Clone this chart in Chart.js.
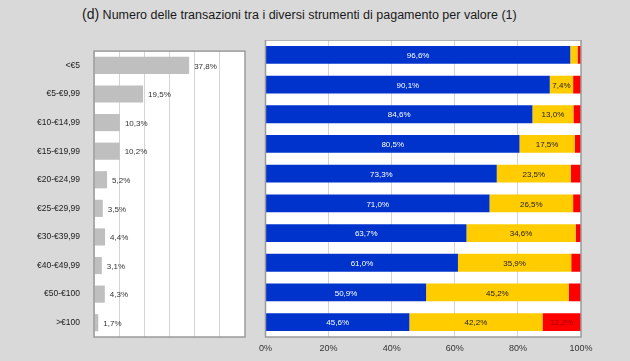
<!DOCTYPE html>
<html>
<head>
<meta charset="utf-8">
<script src="https://cdn.jsdelivr.net/npm/chart.js@4/dist/chart.umd.min.js"></script>
<style>
  body { margin: 0; background: #d9d9d9; font-family: "Liberation Sans", Arial, sans-serif; }
  #wrap { position: relative; width: 630px; height: 361px; overflow: hidden; }
  #title { position: absolute; left: 82px; top: 6px; font-size: 12.5px; color: #1a1a1a; white-space: nowrap; }
  #title b { font-weight: normal; font-size: 14px; }
  #left { position: absolute; left: 0; top: 40px; }
  #right { position: absolute; left: 253px; top: 40px; }
</style>
</head>
<body>
<div id="wrap">
  <div id="title"><b>(d)</b> Numero delle transazioni tra i diversi strumenti di pagamento per valore (1)</div>
  <canvas id="left" width="250" height="321"></canvas>
  <canvas id="right" width="377" height="321"></canvas>
</div>
<script>
// ── DATI ──────────────────────────────────────────────
const categories = ['<€5', '€5-€9,99', '€10-€14,99', '€15-€19,99', '€20-€24,99', '€25-€29,99', '€30-€39,99', '€40-€49,99', '€50-€100', '>€100'];
const shareValues = [37.8, 19.5, 10.3, 10.2, 5.2, 3.5, 4.4, 3.1, 4.3, 1.7];
const blueValues = [96.6, 90.1, 84.6, 80.5, 73.3, 71.0, 63.7, 61.0, 50.9, 45.6];
const yellowValues = [2.3, 7.4, 13.0, 17.5, 23.5, 26.5, 34.6, 35.9, 45.2, 42.2];
const redValues = [1.1, 2.5, 2.4, 2.0, 3.2, 2.5, 1.7, 3.1, 3.9, 12.2];
const xTicks = ['0%', '20%', '40%', '60%', '80%', '100%'];

const fmt = v => v.toFixed(1).replace('.', ',') + '%';

// sfondo bianco + bordo area grafico
const boxPlugin = {
    id: 'box',
    beforeDraw(chart) {
        const { ctx, chartArea: a } = chart;
        ctx.save(); ctx.fillStyle = '#fff'; ctx.fillRect(a.left, a.top, a.right - a.left, a.bottom - a.top); ctx.restore();
    },
    afterDraw(chart) {
        const { ctx, chartArea: a } = chart;
        ctx.save(); ctx.strokeStyle = '#9a9a9a'; ctx.lineWidth = 1.5;
        ctx.strokeRect(a.left, a.top, a.right - a.left, a.bottom - a.top); ctx.restore();
    }
};

// etichette valori
const labelPlugin = {
    id: 'vlabels',
    afterDatasetsDraw(chart, args, opts) {
        const ctx = chart.ctx;
        ctx.save(); ctx.font = '8px "Liberation Sans", Arial'; ctx.textBaseline = 'middle';
        chart.data.datasets.forEach((ds, di) => {
            chart.getDatasetMeta(di).data.forEach((bar, i) => {
                const v = ds.data[i];
                if (opts.outside) {
                    ctx.fillStyle = '#333'; ctx.textAlign = 'left';
                    ctx.fillText(fmt(v), bar.x + 5, bar.y + 1);
                } else {
                    if (v < 5) return;
                    ctx.fillStyle = ds.labelColor; ctx.textAlign = 'center';
                    ctx.fillText(fmt(v), (bar.x + bar.base) / 2, bar.y + 1);
                }
            });
        });
        ctx.restore();
    }
};

const tickFont = { family: '"Liberation Sans", Arial', size: 9 };

// ── GRAFICO SINISTRO ──────────────────────────────────
new Chart(document.getElementById('left'), {
    type: 'bar',
    data: { labels: categories, datasets: [{ data: shareValues, backgroundColor: '#bfbfbf', barPercentage: 0.6, categoryPercentage: 1 }] },
    options: {
        indexAxis: 'y', responsive: false, animation: false,
        layout: { padding: { left: 0, right: 5, top: 0, bottom: 0 } },
        plugins: { legend: { display: false }, tooltip: { enabled: false }, vlabels: { outside: true } },
        scales: {
            x: { min: 0, max: 60, ticks: { stepSize: 10, display: false }, grid: { color: '#d4d4d4', drawTicks: false }, border: { display: false },
                 afterFit: s => { s.height = 24; } },
            y: { ticks: { color: '#222', font: { family: '"Liberation Sans", Arial', size: 8.5 }, padding: 6 }, grid: { display: false }, border: { display: false },
                 afterFit: s => { s.width = 94; } }
        }
    },
    plugins: [boxPlugin, labelPlugin]
});

// ── GRAFICO DESTRO ────────────────────────────────────
new Chart(document.getElementById('right'), {
    type: 'bar',
    data: {
        labels: categories,
        datasets: [
            { data: blueValues, backgroundColor: '#0033cc', labelColor: '#ffffff', barPercentage: 0.6, categoryPercentage: 1 },
            { data: yellowValues, backgroundColor: '#ffcc00', labelColor: '#222', barPercentage: 0.6, categoryPercentage: 1 },
            { data: redValues, backgroundColor: '#ff0000', labelColor: '#990000', barPercentage: 0.6, categoryPercentage: 1 }
        ]
    },
    options: {
        indexAxis: 'y', responsive: false, animation: false,
        layout: { padding: { left: 0, right: 49, top: 0 } },
        plugins: { legend: { display: false }, tooltip: { enabled: false }, vlabels: { outside: false } },
        scales: {
            x: { stacked: true, min: 0, max: 100, ticks: { stepSize: 20, color: '#333', font: tickFont, padding: 6, callback: (v, i) => xTicks[i] },
                 grid: { color: '#d4d4d4', drawTicks: false }, border: { display: false },
                 afterFit: s => { s.height = 24; } },
            y: { stacked: true, ticks: { display: false }, grid: { display: false }, border: { display: false },
                 afterFit: s => { s.width = 11; } }
        }
    },
    plugins: [boxPlugin, labelPlugin]
});
</script>
</body>
</html>
